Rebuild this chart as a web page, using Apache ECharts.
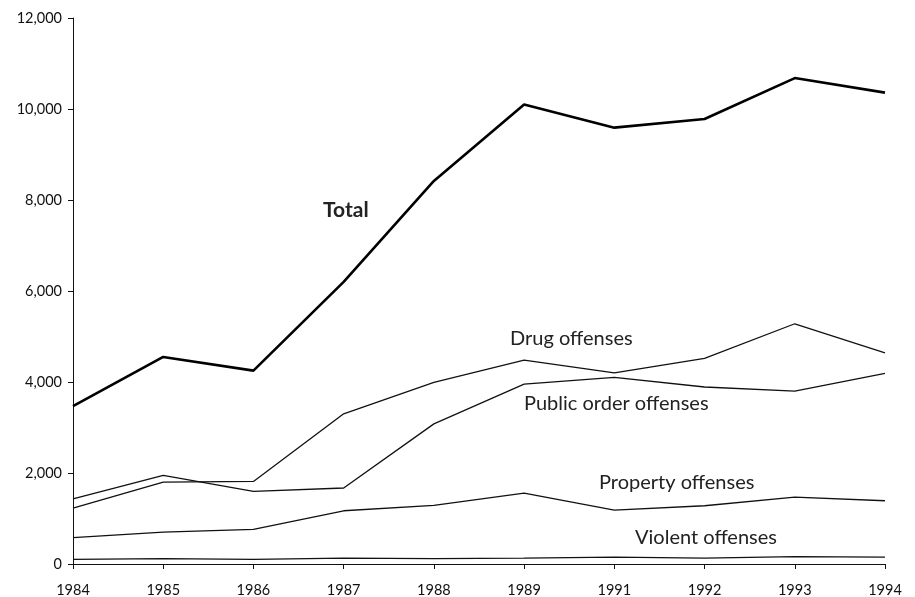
<!DOCTYPE html>
<html>
<head>
<meta charset="utf-8">
<script src="https://cdn.jsdelivr.net/npm/echarts@6/dist/echarts.min.js"></script>
<style>
  html, body { margin: 0; padding: 0; background: #fff; }
  #chart { width: 915px; height: 597px; }
</style>
</head>
<body>
<div id="chart"></div>
<script>
// years on the axis (1990 is not in the source)
const years = ['1984', '1985', '1986', '1987', '1988', '1989', '1991', '1992', '1993', '1994']

const total = [3470, 4550, 4250, 6200, 8420, 10100, 9590, 9780, 10680, 10360]
const drugOffenses = [1230, 1800, 1815, 3300, 3990, 4480, 4200, 4520, 5280, 4640]
const publicOrderOffenses = [1430, 1950, 1595, 1670, 3080, 3955, 4100, 3890, 3800, 4190]
const propertyOffenses = [580, 700, 760, 1170, 1290, 1560, 1185, 1280, 1470, 1390]
const violentOffenses = [100, 120, 100, 130, 120, 130, 150, 130, 160, 150]

const font = 'Lato, "Open Sans", sans-serif'

const chart = echarts.init(document.getElementById('chart'))

// 细线系列的公共样式
const thinLine = (name, data) => ({
  name: name,
  type: 'line',
  data: data,
  symbol: 'none',
  silent: true,
  lineStyle: { color: '#111', width: 1.3 },
})

const label = (text, left, top, bold) => ({
  type: 'text',
  left: left,
  top: top,
  style: {
    text: text,
    fill: '#222',
    font: (bold ? 'bold 21px ' : '20px ') + font,
  },
})

const option = {
  animation: false,
  grid: { left: 73, right: 30, top: 18, bottom: 33, outerBoundsMode: 'none' },
  xAxis: {
    type: 'category',
    data: years,
    boundaryGap: false,
    axisLine: { lineStyle: { color: '#111', width: 1 } },
    axisTick: { length: 5, lineStyle: { color: '#111' }, alignWithLabel: true },
    axisLabel: { color: '#111', fontSize: 14.5, fontFamily: font, margin: 19 },
  },
  yAxis: {
    type: 'value',
    min: 0,
    max: 12000,
    interval: 2000,
    splitLine: { show: false },
    axisLine: { show: true, lineStyle: { color: '#111', width: 1 } },
    axisTick: { show: true, length: 5, lineStyle: { color: '#111' } },
    axisLabel: {
      color: '#111',
      fontSize: 14.5,
      fontFamily: font,
      margin: 11,
      padding: [6, 0, 0, 0],
      formatter: (v) => v.toLocaleString('en-US'),
    },
  },
  series: [
    {
      name: 'Total',
      type: 'line',
      data: total,
      symbol: 'none',
      silent: true,
      lineStyle: { color: '#000', width: 2.6 },
    },
    thinLine('Drug offenses', drugOffenses),
    thinLine('Public order offenses', publicOrderOffenses),
    thinLine('Property offenses', propertyOffenses),
    thinLine('Violent offenses', violentOffenses),
  ],
  graphic: [
    label('Total', 323, 200, true),
    label('Drug offenses', 510, 329, false),
    label('Public order offenses', 524, 394, false),
    label('Property offenses', 599, 473, false),
    label('Violent offenses', 635, 528, false),
  ],
}

chart.setOption(option)
</script>
</body>
</html>
